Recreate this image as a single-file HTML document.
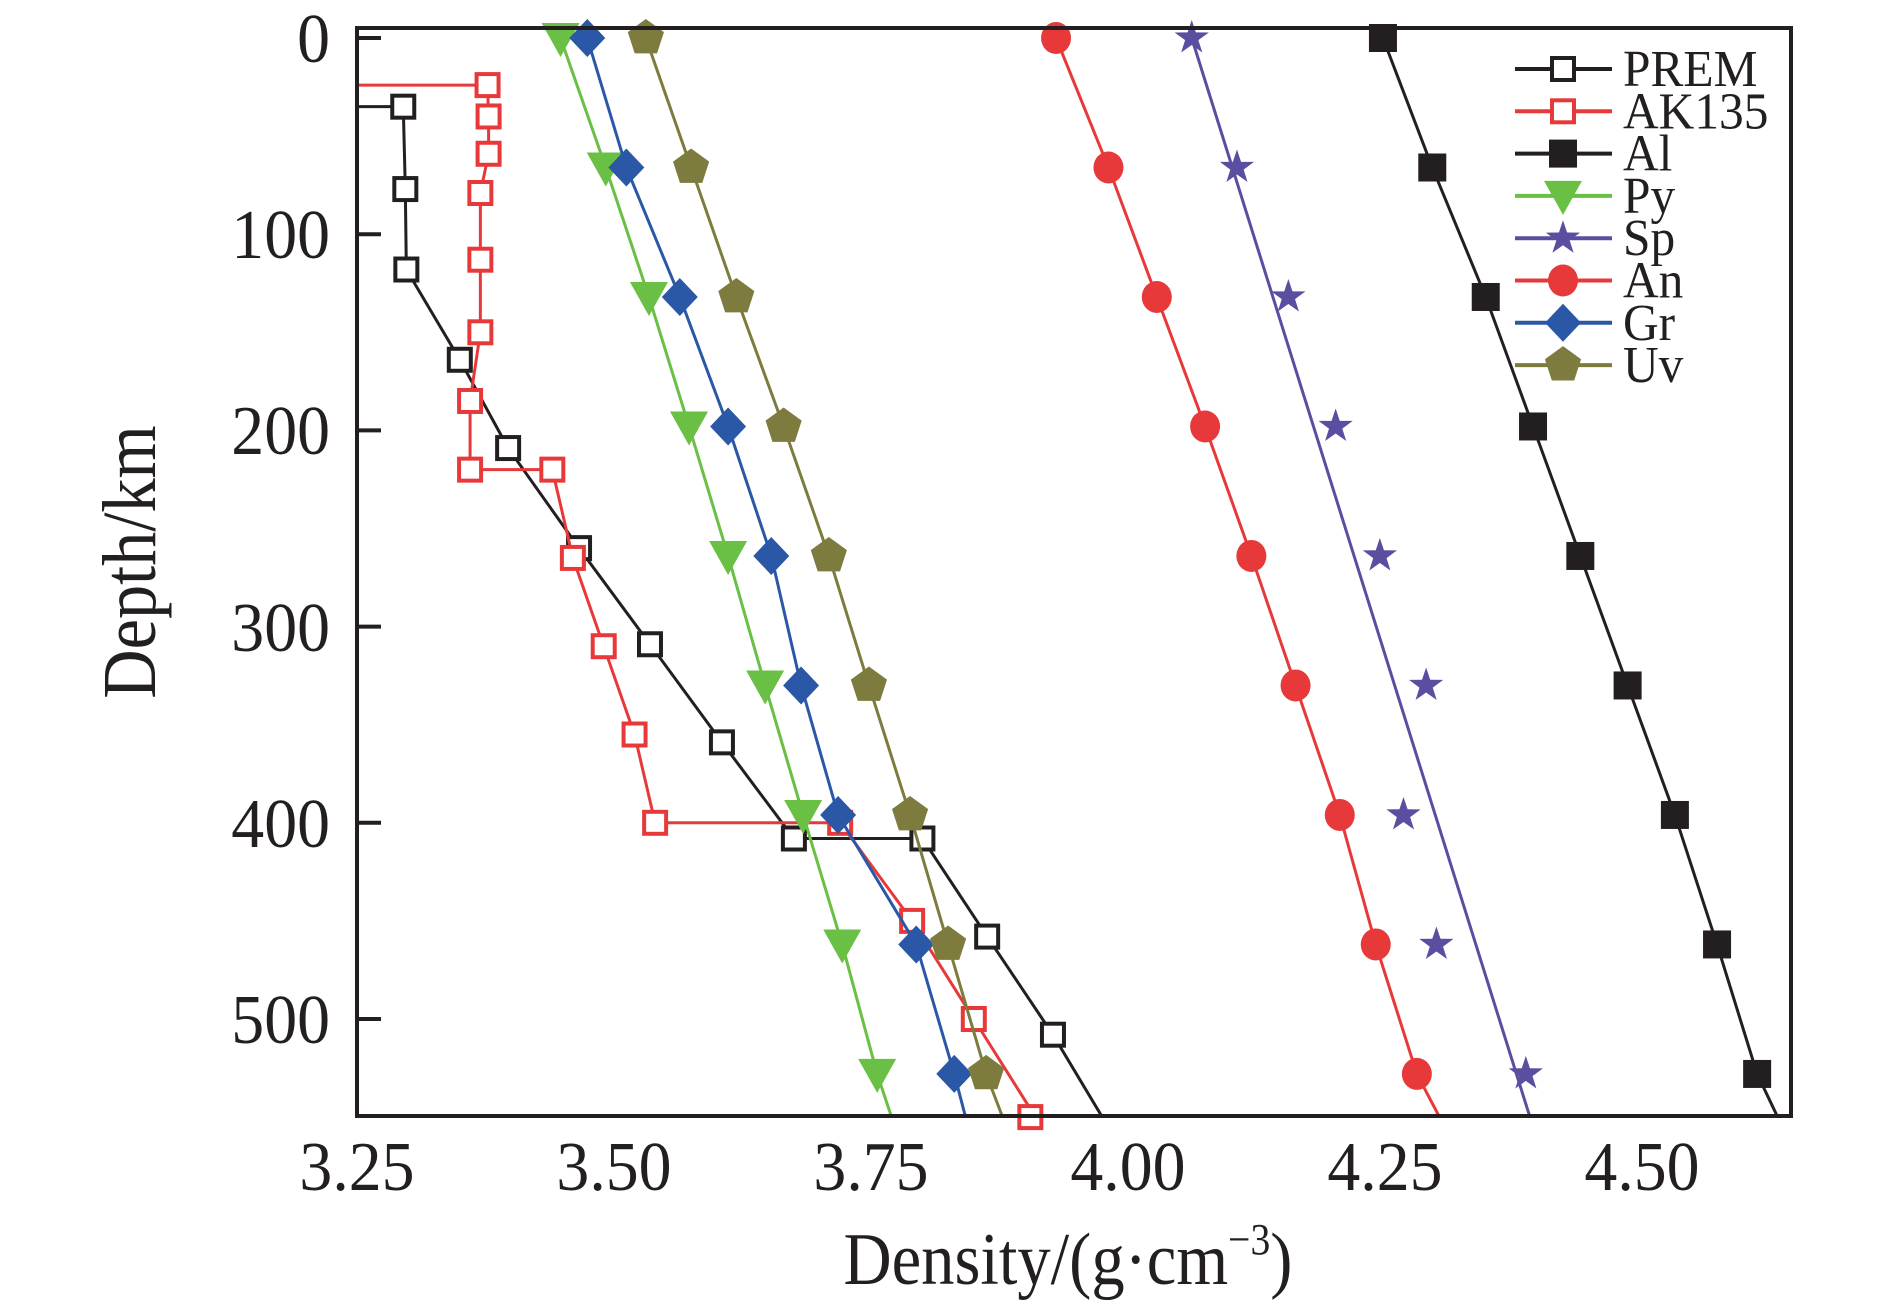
<!DOCTYPE html>
<html><head><meta charset="utf-8"><style>
html,body{margin:0;padding:0;background:#fff;width:1890px;height:1311px;overflow:hidden}
svg{display:block}
text{font-family:"Liberation Serif",serif;fill:#231f20}
</style></head><body>
<svg id="s" width="1890" height="1311" viewBox="0 0 1890 1311" xmlns="http://www.w3.org/2000/svg">
<g id="plot"></g>
<rect x="357" y="28" width="1434" height="1088" fill="none" stroke="#231f20" stroke-width="4"/>
<g font-size="70" text-anchor="end">
<text x="330" y="62" transform="scale(0.94,1)" transform-origin="330 62">0</text>
<text x="330" y="258" transform="scale(0.94,1)" transform-origin="330 258">100</text>
<text x="330" y="454" transform="scale(0.94,1)" transform-origin="330 454">200</text>
<text x="330" y="651" transform="scale(0.94,1)" transform-origin="330 651">300</text>
<text x="330" y="847" transform="scale(0.94,1)" transform-origin="330 847">400</text>
<text x="330" y="1043" transform="scale(0.94,1)" transform-origin="330 1043">500</text>
</g>
<g font-size="70" text-anchor="middle">
<text x="357" y="1190" transform="scale(0.94,1)" transform-origin="357 1190">3.25</text>
<text x="614" y="1190" transform="scale(0.94,1)" transform-origin="614 1190">3.50</text>
<text x="871" y="1190" transform="scale(0.94,1)" transform-origin="871 1190">3.75</text>
<text x="1128" y="1190" transform="scale(0.94,1)" transform-origin="1128 1190">4.00</text>
<text x="1385" y="1190" transform="scale(0.94,1)" transform-origin="1385 1190">4.25</text>
<text x="1642" y="1190" transform="scale(0.94,1)" transform-origin="1642 1190">4.50</text>
</g>
<text x="1068" y="1284" font-size="74" text-anchor="middle" transform="scale(0.9,1)" transform-origin="1068 1284">Density/(g·cm<tspan font-size="44" dy="-30">−3</tspan><tspan dy="30">)</tspan></text>
<text x="0" y="0" font-size="76" text-anchor="middle" transform="translate(155,562) rotate(-90) scale(0.9,1)">Depth/km</text>
<g id="leg" font-size="52"></g>
</svg>
<script>
var NS="http://www.w3.org/2000/svg";
function X(d){return 357+(d-3.25)*1028}
function Y(z){return 38+z*1.962}
var P=document.getElementById("plot"),L=document.getElementById("leg");
function el(p,t,a){var e=document.createElementNS(NS,t);for(var k in a)e.setAttribute(k,a[k]);p.appendChild(e);return e}
function marker(p,type,x,y,c){
 if(type=="os"){el(p,"rect",{x:x-11,y:y-11,width:22,height:22,fill:"#fff",stroke:c,"stroke-width":4});}
 else if(type=="fs"){el(p,"rect",{x:x-14,y:y-14,width:28,height:28,fill:c});}
 else if(type=="tri"){el(p,"polygon",{points:(x-19)+","+(y-15)+" "+(x+19)+","+(y-15)+" "+x+","+(y+19),fill:c});}
 else if(type=="circ"){el(p,"ellipse",{cx:x,cy:y,rx:15,ry:16,fill:c});}
 else if(type=="dia"){el(p,"polygon",{points:x+","+(y-19)+" "+(x+18)+","+y+" "+x+","+(y+19)+" "+(x-18)+","+y,fill:c});}
 else if(type=="pent"){var s="";for(var i=0;i<5;i++){var a=-Math.PI/2+i*2*Math.PI/5;s+=(x+19*Math.cos(a))+","+(y+19*Math.sin(a))+" ";}el(p,"polygon",{points:s,fill:c});}
 else if(type=="star"){var s="";for(var i=0;i<10;i++){var r=i%2?7:18;var a=-Math.PI/2+i*Math.PI/5;s+=(x+r*Math.cos(a))+","+(y+r*Math.sin(a))+" ";}el(p,"polygon",{points:s,fill:c});}
}
var ZD=[0,66,132,198,264,330,396,462,528];
var S=[
 {n:"PREM",c:"#231f20",m:"os",line:[[3.25,35],[3.295,35],[3.297,77],[3.298,118],[3.35,164],[3.397,209],[3.466,260],[3.535,309],[3.605,359],[3.675,408],[3.80,408],[3.863,458],[3.927,508],[3.975,550]],pts:[[3.295,35],[3.297,77],[3.298,118],[3.35,164],[3.397,209],[3.466,260],[3.535,309],[3.605,359],[3.675,408],[3.80,408],[3.863,458],[3.927,508]]},
 {n:"AK135",c:"#e8393a",m:"os",line:[[3.25,24],[3.377,24],[3.378,40],[3.378,59],[3.37,79],[3.37,113],[3.37,150],[3.36,185],[3.36,220],[3.44,220],[3.46,265],[3.49,310],[3.52,355],[3.54,400],[3.72,400],[3.79,450],[3.85,500],[3.91,550]],pts:[[3.377,24],[3.378,40],[3.378,59],[3.37,79],[3.37,113],[3.37,150],[3.36,185],[3.36,220],[3.44,220],[3.46,265],[3.49,310],[3.52,355],[3.54,400],[3.72,400],[3.79,450],[3.85,500],[3.905,550]]},
 {n:"Al",c:"#231f20",m:"fs",d:[4.248,4.296,4.348,4.394,4.44,4.486,4.532,4.573,4.612],end:4.632},
 {n:"Py",c:"#6abf45",m:"tri",d:[3.448,3.492,3.534,3.573,3.611,3.647,3.684,3.722,3.756],end:3.77},
 {n:"Sp",c:"#5a4ea0",m:"star",d:[4.062,4.106,4.156,4.202,4.245,4.290,4.268,4.300,4.387],line:[[4.062,0],[4.391,550]]},
 {n:"An",c:"#e8393a",m:"circ",d:[3.930,3.981,4.028,4.075,4.120,4.163,4.206,4.241,4.281],end:4.303},
 {n:"Gr",c:"#2b58a6",m:"dia",d:[3.474,3.512,3.564,3.611,3.653,3.682,3.718,3.794,3.831],end:3.842},
 {n:"Uv",c:"#7d7c3e",m:"pent",d:[3.531,3.575,3.619,3.665,3.709,3.748,3.788,3.825,3.862],end:3.878}
];
S.forEach(function(s,k){
 var line=s.line,pts=s.pts;
 if(s.d){pts=s.d.map(function(v,i){return [v,ZD[i]]});
  if(!line){line=pts.concat([[s.end,550]]);}}
 el(P,"polyline",{points:line.map(function(p){return X(p[0])+","+Y(p[1])}).join(" "),fill:"none",stroke:s.c,"stroke-width":3});
 pts.forEach(function(p){marker(P,s.m,X(p[0]),Y(p[1]),s.c)});
 var y=69+k*42.3;
 el(L,"line",{x1:1515,y1:y,x2:1612,y2:y,stroke:s.c,"stroke-width":4});
 marker(L,s.m,1563,y,s.c);
 var t=el(L,"text",{x:1623,y:y+17,transform:"scale(0.95,1)","transform-origin":"1623 "+(y+17)});t.textContent=s.n;
});
[0,100,200,300,400,500].forEach(function(z){el(P,"line",{x1:357,y1:Y(z),x2:381,y2:Y(z),stroke:"#231f20","stroke-width":4})});
</script>
</body></html>
